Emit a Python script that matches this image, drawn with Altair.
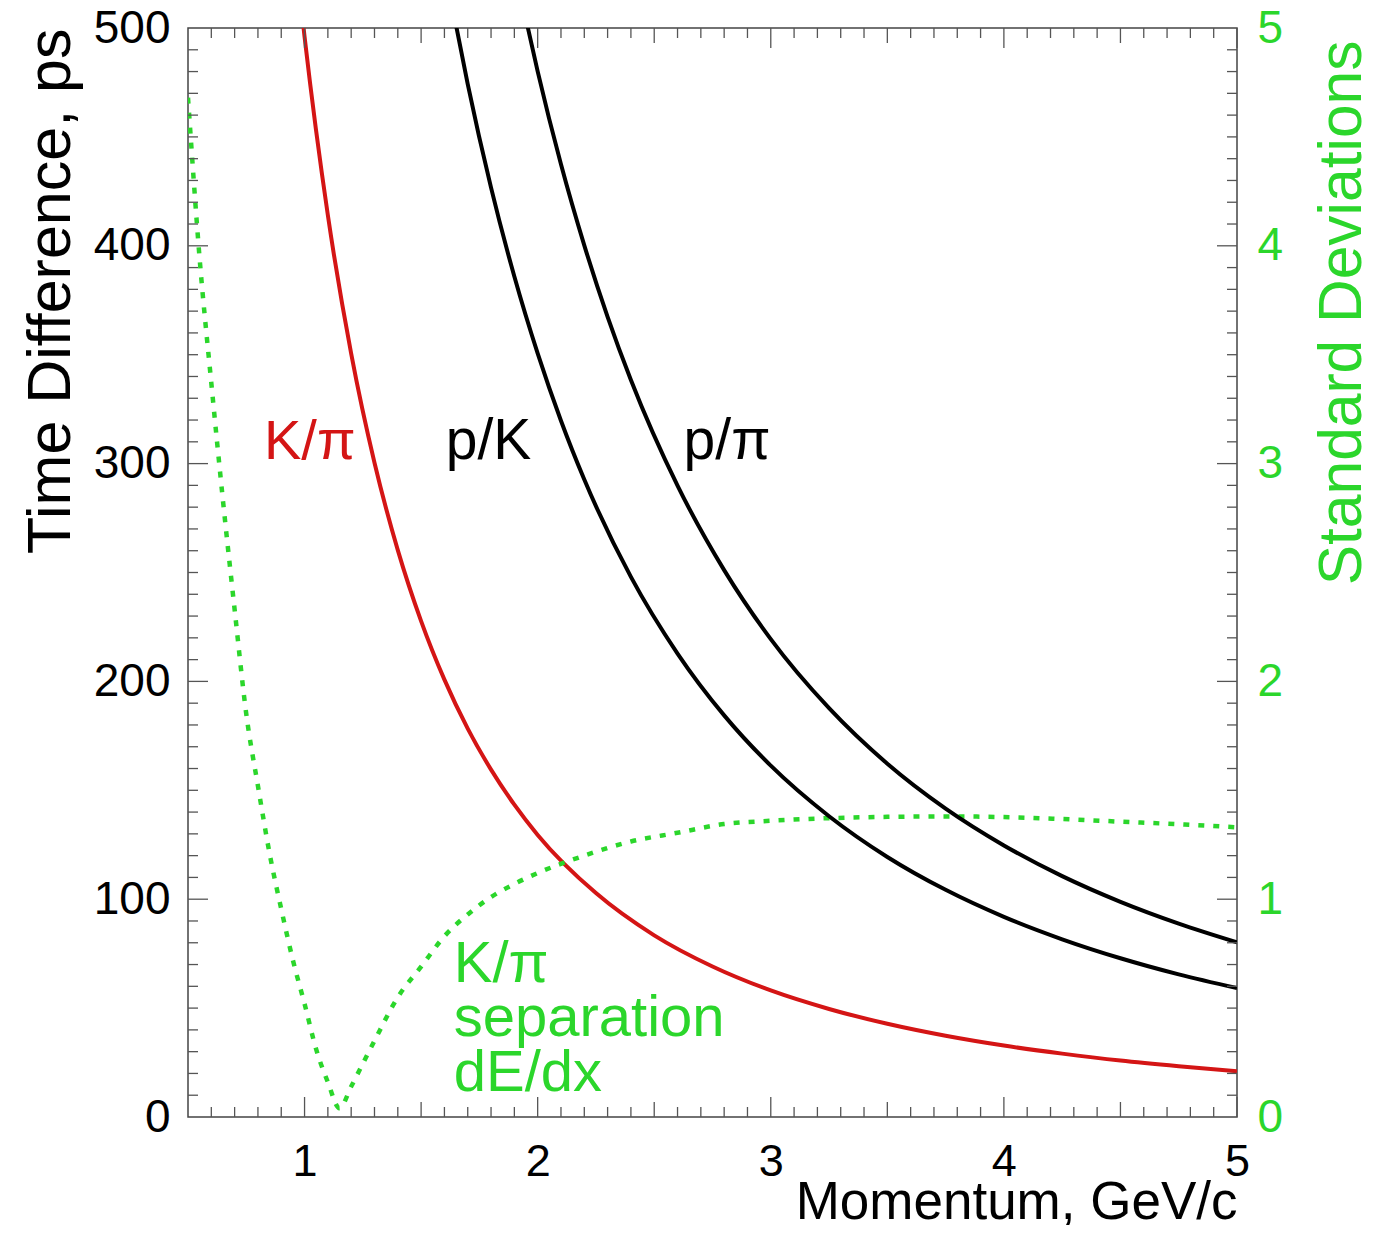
import altair as alt
import pandas as pd

# ---------------- data ----------------
# K/pi time difference (ps) vs momentum (GeV/c)
kpi_p = [0.98, 1.0, 1.1, 1.2, 1.3, 1.4, 1.5, 1.6, 1.7, 1.8, 1.9, 2.0, 2.25, 2.5, 2.75,
         3.0, 3.25, 3.5, 3.75, 4.0, 4.25, 4.5, 4.75, 5.0]
kpi_t = [515, 496, 414, 350.5, 300.4, 260.3, 227.7, 200.8, 178.3, 159.5, 143.4, 129.5,
         102.8, 83.4, 69.1, 58.1, 49.6, 42.8, 37.3, 32.8, 29.1, 25.9, 23.3, 21.0]

# p/K time difference
pk_p = [1.64, 1.7, 1.8, 1.9, 2.0, 2.1, 2.2, 2.4, 2.6, 2.8, 3.0, 3.25, 3.5, 3.75,
        4.0, 4.25, 4.5, 4.75, 5.0]
pk_t = [506.6, 474.2, 426.7, 385.9, 350.6, 319.7, 292.7, 248.0, 212.8, 184.4, 161.3,
        138.1, 119.4, 104.3, 91.9, 81.6, 72.9, 65.5, 59.2]

# p/pi time difference
ppi_p = [1.94, 2.0, 2.1, 2.2, 2.3, 2.4, 2.6, 2.8, 3.0, 3.25, 3.5, 3.75, 4.0, 4.25,
         4.5, 4.75, 5.0]
ppi_t = [508.7, 480.1, 437.4, 400.2, 367.4, 338.4, 289.9, 251.1, 219.4, 187.7, 162.2,
         141.6, 124.7, 110.6, 98.8, 88.8, 80.2]

# K/pi dE/dx separation (standard deviations)
sep_p = [0.50, 0.55, 0.60, 0.65, 0.70, 0.75, 0.80, 0.85, 0.90, 0.95, 1.00, 1.05, 1.10,
         1.15, 1.20, 1.25, 1.30, 1.40, 1.50, 1.60, 1.70, 1.80, 1.90, 2.00, 2.20, 2.40,
         2.60, 2.80, 3.00, 3.25, 3.50, 3.75, 4.00, 4.25, 4.50, 4.75, 5.00]
sep_sd = [4.68, 3.94, 3.37, 2.83, 2.33, 1.85, 1.52, 1.21, 0.955, 0.72, 0.52, 0.31, 0.16,
          0.04, 0.14, 0.245, 0.35, 0.55, 0.69, 0.83, 0.93, 1.01, 1.07, 1.12, 1.20, 1.265,
          1.305, 1.345, 1.36, 1.372, 1.378, 1.38, 1.377, 1.368, 1.356, 1.344, 1.33]

# axis tick values
x_label_values = [1, 2, 3, 4, 5]
y_label_values = [0, 100, 200, 300, 400, 500]
sd_label_values = [0, 1, 2, 3, 4, 5]
x_medium_ticks = [1.5, 2.5, 3.5, 4.5]
x_minor_ticks = [round(0.5 + 0.1 * i, 1) for i in range(1, 45) if i % 5 != 0]
y_major_ticks = [100, 200, 300, 400]
y_minor_ticks = [10 * i for i in range(1, 50) if i % 10 != 0]

# annotations (text, momentum, time difference at baseline)
red_labels = ["K/π"]
red_label_p = [0.826]
red_label_t = [302]
black_labels = ["p/K", "p/π"]
black_label_p = [1.606, 2.626]
black_label_t = [302, 302]
green_labels = ["K/π", "separation", "dE/dx"]
green_label_p = [1.64, 1.64, 1.64]
green_label_t = [62, 37, 12]

# ---------------- styling ----------------
FONT = "Liberation Sans"
RED = "#d41515"
GREEN = "#2bd62b"
TICK = "#555555"
W, H = 1049, 1089

x_scale = alt.Scale(domain=[0.5, 5], nice=False, zero=False)
y_scale = alt.Scale(domain=[0, 500], nice=False, zero=False)
s_scale = alt.Scale(domain=[0, 5], nice=False, zero=False)

df_kpi = pd.DataFrame({"p": kpi_p, "t": kpi_t})
df_black = pd.concat([
    pd.DataFrame({"p": pk_p, "t": pk_t, "s": "p/K"}),
    pd.DataFrame({"p": ppi_p, "t": ppi_t, "s": "p/pi"}),
])
df_sep = pd.DataFrame({"p": sep_p, "sd": sep_sd})

x_axis = alt.Axis(orient="bottom", values=x_label_values, ticks=False, tickSize=0,
                  domain=False, grid=False,
                  labelFontSize=45, labelColor="black", labelPadding=22, labelFlush=False,
                  labelOverlap=False, format="d",
                  title="Momentum, GeV/c", titleFontSize=53, titleFontWeight="normal",
                  titleColor="black", titleAnchor="end", titleAlign="right",
                  titleBaseline="alphabetic", titleX=W, titleY=101)
y_axis = alt.Axis(orient="left", values=y_label_values, ticks=False, tickSize=0,
                  domain=False, grid=False,
                  labelFontSize=46, labelColor="black", labelPadding=18, labelOverlap=False,
                  title="Time Difference, ps", titleFontSize=61, titleFontWeight="normal",
                  titleColor="black", titleAngle=270, titleAnchor="end", titleAlign="right",
                  titleBaseline="alphabetic", titleX=-119, titleY=0)
sd_axis = alt.Axis(orient="right", values=sd_label_values, ticks=False, tickSize=0,
                   domain=False, grid=False, labelFontSize=46, labelColor=GREEN,
                   labelPadding=20, labelOverlap=False,
                   title="Standard Deviations", titleFontSize=60.5, titleFontWeight="normal",
                   titleColor=GREEN, titleAngle=270, titleAnchor="end", titleAlign="right",
                   titleBaseline="alphabetic", titleX=123, titleY=12)


def X():
    # identical x axis definition on every layer so the shared axis merges cleanly
    return alt.X("p:Q", scale=x_scale, axis=x_axis)


red = alt.Chart(df_kpi).mark_line(color=RED, strokeWidth=4, clip=True,
                                  interpolate="monotone").encode(
    x=X(),
    y=alt.Y("t:Q", scale=y_scale, axis=y_axis),
)

black = alt.Chart(df_black).mark_line(color="black", strokeWidth=4, clip=True,
                                      interpolate="monotone").encode(
    x=X(),
    y=alt.Y("t:Q", scale=y_scale, axis=None),
    detail="s:N",
)

green = alt.Chart(df_sep).mark_line(color=GREEN, strokeWidth=4.5, strokeDash=[6, 9],
                                    clip=True, interpolate="monotone").encode(
    x=X(),
    y=alt.Y("sd:Q", scale=s_scale, axis=sd_axis),
)


def x_ticks(vals, length):
    df = pd.DataFrame({"p": vals})
    base = alt.Chart(df).mark_rule(color=TICK, strokeWidth=1.3)
    bottom = base.encode(x=X(), y=alt.value(H), y2=alt.value(H - length))
    top = base.encode(x=X(), y=alt.value(0), y2=alt.value(length))
    return [bottom, top]


def y_ticks(vals, length):
    df = pd.DataFrame({"t": vals})
    base = alt.Chart(df).mark_rule(color=TICK, strokeWidth=1.3)
    left = base.encode(y=alt.Y("t:Q", scale=y_scale, axis=None),
                       x=alt.value(0), x2=alt.value(length))
    right = base.encode(y=alt.Y("t:Q", scale=y_scale, axis=None),
                        x=alt.value(W - length), x2=alt.value(W))
    return [left, right]


tick_layers = (x_ticks(x_label_values, 20) + x_ticks(x_medium_ticks, 15)
               + x_ticks(x_minor_ticks, 10) + y_ticks(y_major_ticks, 20)
               + y_ticks(y_minor_ticks, 10))


def text_layer(labels, ps, ts, color, size):
    df = pd.DataFrame({"label": labels, "p": ps, "t": ts})
    return alt.Chart(df).mark_text(align="left", baseline="alphabetic", fontSize=size,
                                   font=FONT, color=color).encode(
        x=X(),
        y=alt.Y("t:Q", scale=y_scale, axis=None),
        text="label:N",
    )


texts = [text_layer(red_labels, red_label_p, red_label_t, RED, 56),
         text_layer(black_labels, black_label_p, black_label_t, "black", 57),
         text_layer(green_labels, green_label_p, green_label_t, GREEN, 58)]

chart = alt.layer(red, green, black, *tick_layers, *texts).resolve_scale(
    y="independent"
).properties(
    width=W, height=H,
    padding={"left": 180, "top": 20, "right": 133, "bottom": 108},
    autosize=alt.AutoSizeParams(type="none"),
    background="white",
).configure_view(
    stroke="#444444", strokeWidth=1.5
).configure_axis(
    labelFont=FONT, titleFont=FONT
)

chart.save("out.html", embed_options={"renderer": "svg", "actions": False})
